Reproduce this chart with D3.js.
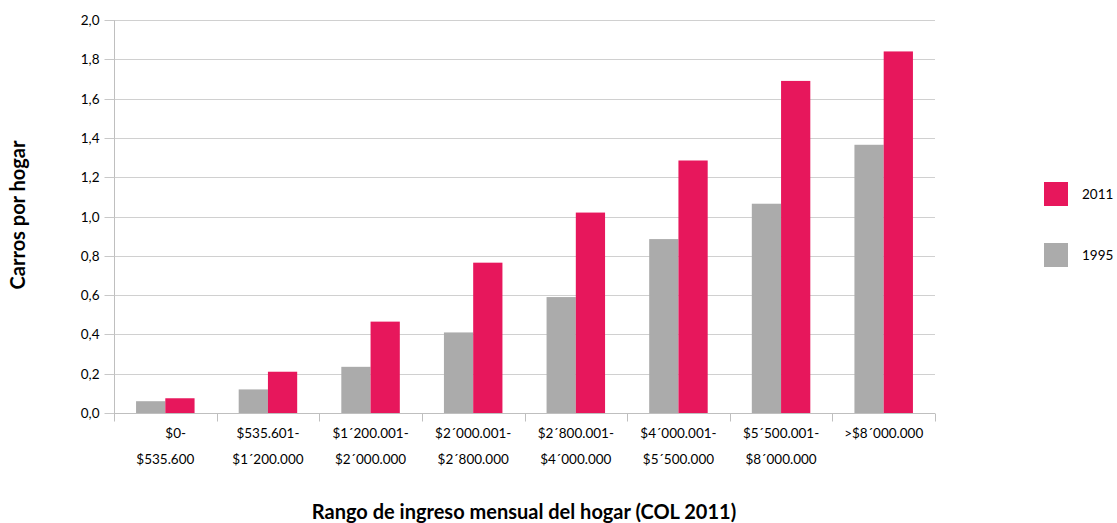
<!DOCTYPE html>
<html><head><meta charset="utf-8">
<script src="https://cdn.jsdelivr.net/npm/d3@7"></script>
<style>
html,body{margin:0;padding:0;background:#fff;}
text{font-family:Lato,"Open Sans",sans-serif;fill:#000;}
</style></head>
<body><svg id="c" width="1117" height="523"></svg>
<script>
const categories = ["$0- $535.600","$535.601- $1´200.000","$1´200.001- $2´000.000","$2´000.001- $2´800.000","$2´800.001- $4´000.000","$4´000.001- $5´500.000","$5´500.001- $8´000.000",">$8´000.000"];
const categoryLine1 = ["      $0-","$535.601-","$1´200.001-","$2´000.001-","$2´800.001-","$4´000.001-","$5´500.001-",">$8´000.000"];
const categoryLine2 = ["$535.600","$1´200.000","$2´000.000","$2´800.000","$4´000.000","$5´500.000","$8´000.000",""];
const seriesNames = ["1995","2011"];
const values1995 = [0.06,0.12,0.235,0.41,0.59,0.885,1.065,1.365];
const values2011 = [0.075,0.21,0.465,0.765,1.02,1.285,1.69,1.84];
const yTicks = [0,0.2,0.4,0.6,0.8,1.0,1.2,1.4,1.6,1.8,2.0];
const colors = {"1995":"#ABABAB","2011":"#E7175C"};
const legendOrder = ["2011","1995"];

const svg = d3.select("#c");
const L=114, R=935, T=20, B=413;
const x = d3.scaleBand().domain(categories).range([L,R]).padding(0);
const xs = d3.scaleBand().domain(seriesNames).range([x.bandwidth()*0.215, x.bandwidth()*0.785]).padding(0);
const y = d3.scaleLinear().domain([0,2]).range([B,T]);
const fmt = v => d3.format(".1f")(v).replace(".",",");

// gridlines
svg.append("g").selectAll("line").data(yTicks.filter(d=>d>0)).join("line")
  .attr("x1",L).attr("x2",R).attr("y1",d=>Math.round(y(d))+0.5).attr("y2",d=>Math.round(y(d))+0.5)
  .attr("stroke","#d0d0d0").attr("stroke-width",1);

// y axis
const yAxis = svg.append("g").attr("transform",`translate(${L+0.5},0)`)
  .call(d3.axisLeft(y).tickValues(yTicks).tickFormat(fmt).tickSize(10).tickPadding(5));
yAxis.select(".domain").attr("stroke","#bfbfbf").attr("d",`M0,${T}V${B}`);
yAxis.selectAll(".tick line").attr("stroke","#c8c8c8");
yAxis.selectAll(".tick").attr("transform",d=>`translate(0,${Math.round(y(d))+0.5})`);
yAxis.selectAll("text").attr("font-size",13.5).attr("font-family","Lato").attr("fill","#000");

// bars
const data = categories.map((c,i)=>({c, v:{"1995":values1995[i],"2011":values2011[i]}}));
const grp = svg.append("g").selectAll("g").data(data).join("g")
  .attr("transform",d=>`translate(${x(d.c)},0)`);
grp.selectAll("rect").data(d=>seriesNames.map(s=>({s,v:d.v[s]}))).join("rect")
  .attr("x",d=>xs(d.s)).attr("width",xs.bandwidth())
  .attr("y",d=>y(d.v)).attr("height",d=>B-y(d.v))
  .attr("fill",d=>colors[d.s]);

// x axis
const xb = svg.append("g").attr("transform",`translate(0,${B+0.5})`);
xb.append("line").attr("x1",L).attr("x2",R).attr("stroke","#bfbfbf");
const bounds = d3.range(categories.length+1).map(i=>L+i*x.bandwidth());
xb.selectAll("line.tk").data(bounds).join("line").attr("class","tk")
  .attr("x1",d=>Math.round(d)+0.5).attr("x2",d=>Math.round(d)+0.5).attr("y1",0).attr("y2",8)
  .attr("stroke","#bfbfbf");
const lab = svg.append("g").selectAll("text").data(categories).join("text")
  .attr("x",d=>x(d)+x.bandwidth()/2).attr("text-anchor","middle")
  .attr("font-size",13.5).style("white-space","pre");
lab.append("tspan").attr("x",d=>x(d)+x.bandwidth()/2).attr("y",438).text((d,i)=>categoryLine1[i]);
lab.append("tspan").attr("x",d=>x(d)+x.bandwidth()/2).attr("y",464).text((d,i)=>categoryLine2[i]);

// titles
svg.append("text").attr("x",524).attr("y",519).attr("text-anchor","middle")
  .attr("font-size",20).attr("font-weight","bold").text("Rango de ingreso mensual del hogar (COL 2011)");
svg.append("text").attr("transform","translate(25,215) rotate(-90)").attr("text-anchor","middle")
  .attr("font-size",20).attr("font-weight","bold").text("Carros por hogar");

// legend
const lg = svg.append("g").selectAll("g").data(legendOrder).join("g")
  .attr("transform",(d,i)=>`translate(1044,${182+i*61})`);
lg.append("rect").attr("width",24).attr("height",24).attr("fill",d=>colors[d]);
lg.append("text").attr("x",38).attr("y",17).attr("font-size",13.5).text(d=>d);
</script></body></html>
